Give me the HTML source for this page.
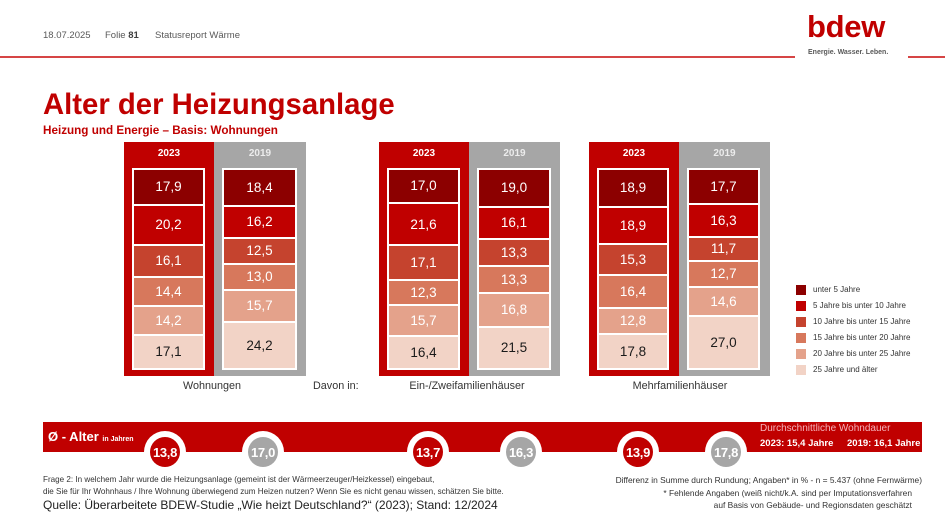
<!DOCTYPE html>
<html><head><meta charset="utf-8">
<style>
*{margin:0;padding:0;box-sizing:border-box}
html,body{width:945px;height:530px;background:#fff;overflow:hidden}
body{position:relative;font-family:"Liberation Sans",sans-serif}
.a{position:absolute;white-space:nowrap}
.panel{position:absolute;top:142px;height:234px}
.red{background:#c00000}
.gray{background:#a6a6a6}
.hdr{position:absolute;top:147px;height:14px;line-height:14px;font-size:10px;font-weight:bold;text-align:center}
.stack{position:absolute;top:168px;height:202px;background:#fff;padding:2px;display:flex;flex-direction:column;gap:2px}
.stack div{min-height:0;display:flex;align-items:center;justify-content:center;color:#fff;font-size:13.5px;flex-basis:0}
.c1{background:#8c0000}.c2{background:#c00000}.c3{background:#c5432e}.c4{background:#d7785c}.c5{background:#e4a28b}.c6{background:#f2d3c6;color:#1a1a1a!important}
.lab{position:absolute;top:380px;font-size:10.8px;color:#333;text-align:center;width:200px}
.lg{position:absolute;left:796px;width:10px;height:10px}
.lt{position:absolute;left:813px;font-size:8px;color:#333;line-height:10px}
.ring{position:absolute;width:42px;height:42px;border-radius:50%;background:#fff;top:431px}
.circ{position:absolute;width:30px;height:30px;border-radius:50%;top:437px;color:#fff;font-size:13px;font-weight:bold;display:flex;align-items:center;justify-content:center;letter-spacing:-0.3px}
</style></head><body>

<!-- header -->
<div class="a" style="left:43px;top:30px;font-size:9.5px;color:#595959;line-height:12px">18.07.2025</div>
<div class="a" style="left:105px;top:30px;font-size:9.5px;color:#595959;line-height:12px">Folie <b style="color:#404040">81</b></div>
<div class="a" style="left:155px;top:30px;font-size:9.5px;color:#595959;line-height:12px">Statusreport Wärme</div>
<div class="a" style="left:0;top:56px;width:795px;height:2px;background:#d64545"></div>
<div class="a" style="left:908px;top:56px;width:37px;height:2px;background:#d64545"></div>
<div class="a" style="left:807px;top:9px;font-size:31px;font-weight:bold;color:#c00000;letter-spacing:-0.3px;line-height:36px">bdew</div>
<div class="a" style="left:808px;top:48px;font-size:7px;color:#595959;font-weight:bold;line-height:9px">Energie. Wasser. Leben.</div>

<!-- title -->
<div class="a" style="left:43px;top:88px;font-size:29.3px;font-weight:bold;color:#c00000;line-height:34px">Alter der Heizungsanlage</div>
<div class="a" style="left:43px;top:124px;font-size:11.7px;font-weight:bold;color:#c00000;line-height:14px">Heizung und Energie – Basis: Wohnungen</div>

<!-- group 1 -->
<div class="panel red" style="left:124px;width:90px"></div>
<div class="panel gray" style="left:214px;width:92px"></div>
<div class="hdr" style="left:124px;width:90px;color:#fff">2023</div>
<div class="hdr" style="left:214px;width:92px;color:#ececec">2019</div>
<div class="stack" style="left:132px;width:73px">
<div class="c1" style="flex-grow:17.9">17,9</div><div class="c2" style="flex-grow:20.2">20,2</div><div class="c3" style="flex-grow:16.1">16,1</div><div class="c4" style="flex-grow:14.4">14,4</div><div class="c5" style="flex-grow:14.2">14,2</div><div class="c6" style="flex-grow:17.1">17,1</div>
</div>
<div class="stack" style="left:222px;width:75px">
<div class="c1" style="flex-grow:18.4">18,4</div><div class="c2" style="flex-grow:16.2">16,2</div><div class="c3" style="flex-grow:12.5">12,5</div><div class="c4" style="flex-grow:13.0">13,0</div><div class="c5" style="flex-grow:15.7">15,7</div><div class="c6" style="flex-grow:24.2">24,2</div>
</div>

<!-- group 2 -->
<div class="panel red" style="left:379px;width:90px"></div>
<div class="panel gray" style="left:469px;width:91px"></div>
<div class="hdr" style="left:379px;width:90px;color:#fff">2023</div>
<div class="hdr" style="left:469px;width:91px;color:#ececec">2019</div>
<div class="stack" style="left:387px;width:73px">
<div class="c1" style="flex-grow:17.0">17,0</div><div class="c2" style="flex-grow:21.6">21,6</div><div class="c3" style="flex-grow:17.1">17,1</div><div class="c4" style="flex-grow:12.3">12,3</div><div class="c5" style="flex-grow:15.7">15,7</div><div class="c6" style="flex-grow:16.4">16,4</div>
</div>
<div class="stack" style="left:477px;width:74px">
<div class="c1" style="flex-grow:19.0">19,0</div><div class="c2" style="flex-grow:16.1">16,1</div><div class="c3" style="flex-grow:13.3">13,3</div><div class="c4" style="flex-grow:13.3">13,3</div><div class="c5" style="flex-grow:16.8">16,8</div><div class="c6" style="flex-grow:21.5">21,5</div>
</div>

<!-- group 3 -->
<div class="panel red" style="left:589px;width:90px"></div>
<div class="panel gray" style="left:679px;width:91px"></div>
<div class="hdr" style="left:589px;width:90px;color:#fff">2023</div>
<div class="hdr" style="left:679px;width:91px;color:#ececec">2019</div>
<div class="stack" style="left:597px;width:72px">
<div class="c1" style="flex-grow:18.9">18,9</div><div class="c2" style="flex-grow:18.9">18,9</div><div class="c3" style="flex-grow:15.3">15,3</div><div class="c4" style="flex-grow:16.4">16,4</div><div class="c5" style="flex-grow:12.8">12,8</div><div class="c6" style="flex-grow:17.8">17,8</div>
</div>
<div class="stack" style="left:687px;width:73px">
<div class="c1" style="flex-grow:17.7">17,7</div><div class="c2" style="flex-grow:16.3">16,3</div><div class="c3" style="flex-grow:11.7">11,7</div><div class="c4" style="flex-grow:12.7">12,7</div><div class="c5" style="flex-grow:14.6">14,6</div><div class="c6" style="flex-grow:27.0">27,0</div>
</div>

<!-- labels -->
<div class="lab" style="left:112px">Wohnungen</div>
<div class="a" style="left:313px;top:380px;font-size:10.8px;color:#333">Davon in:</div>
<div class="lab" style="left:367px">Ein-/Zweifamilienhäuser</div>
<div class="lab" style="left:580px">Mehrfamilienhäuser</div>

<!-- legend -->
<div class="lg c1" style="top:285px"></div><div class="lt" style="top:285px">unter 5 Jahre</div>
<div class="lg c2" style="top:301px"></div><div class="lt" style="top:301px">5 Jahre bis unter 10 Jahre</div>
<div class="lg c3" style="top:317px"></div><div class="lt" style="top:317px">10 Jahre bis unter 15 Jahre</div>
<div class="lg c4" style="top:333px"></div><div class="lt" style="top:333px">15 Jahre bis unter 20 Jahre</div>
<div class="lg c5" style="top:349px"></div><div class="lt" style="top:349px">20 Jahre bis unter 25 Jahre</div>
<div class="lg c6" style="top:365px"></div><div class="lt" style="top:365px">25 Jahre und älter</div>

<!-- band -->
<div class="a" style="left:43px;top:422px;width:879px;height:30px;background:#c00000"></div>
<div class="a" style="left:48px;top:429px;font-size:13px;font-weight:bold;color:#fff;line-height:16px">Ø - Alter <span style="font-size:7px">in Jahren</span></div>
<div class="a" style="left:760px;top:423px;font-size:10px;color:#f4b3ba;line-height:12px">Durchschnittliche Wohndauer</div>
<div class="a" style="left:760px;top:438px;font-size:9.5px;font-weight:bold;color:#fff;line-height:12px">2023: 15,4 Jahre</div>
<div class="a" style="left:847px;top:438px;font-size:9.5px;font-weight:bold;color:#fff;line-height:12px">2019: 16,1 Jahre</div>

<div class="ring" style="left:144px"></div><div class="circ red" style="left:150px">13,8</div>
<div class="ring" style="left:242px"></div><div class="circ gray" style="left:248px">17,0</div>
<div class="ring" style="left:407px"></div><div class="circ red" style="left:413px">13,7</div>
<div class="ring" style="left:500px"></div><div class="circ gray" style="left:506px">16,3</div>
<div class="ring" style="left:617px"></div><div class="circ red" style="left:623px">13,9</div>
<div class="ring" style="left:705px"></div><div class="circ gray" style="left:711px">17,8</div>

<!-- footnotes -->
<div class="a" style="left:43px;top:475px;font-size:8.1px;color:#333;line-height:10px">Frage 2: In welchem Jahr wurde die Heizungsanlage (gemeint ist der Wärmeerzeuger/Heizkessel) eingebaut,</div>
<div class="a" style="left:43px;top:487px;font-size:8.1px;color:#333;line-height:10px">die Sie für Ihr Wohnhaus / Ihre Wohnung überwiegend zum Heizen nutzen? Wenn Sie es nicht genau wissen, schätzen Sie bitte.</div>
<div class="a" style="left:43px;top:498px;font-size:12px;color:#222;line-height:15px">Quelle: Überarbeitete BDEW-Studie „Wie heizt Deutschland?“ (2023); Stand: 12/2024</div>

<div class="a" style="right:23px;top:475px;font-size:8.4px;color:#333;line-height:10px;text-align:right">Differenz in Summe durch Rundung; Angaben* in % - n = 5.437 (ohne Fernwärme)</div>
<div class="a" style="right:33px;top:488px;font-size:8.4px;color:#333;line-height:10px;text-align:right">* Fehlende Angaben (weiß nicht/k.A. sind per Imputationsverfahren</div>
<div class="a" style="right:33px;top:500px;font-size:8.4px;color:#333;line-height:10px;text-align:right">auf Basis von Gebäude- und Regionsdaten geschätzt</div>

</body></html>
